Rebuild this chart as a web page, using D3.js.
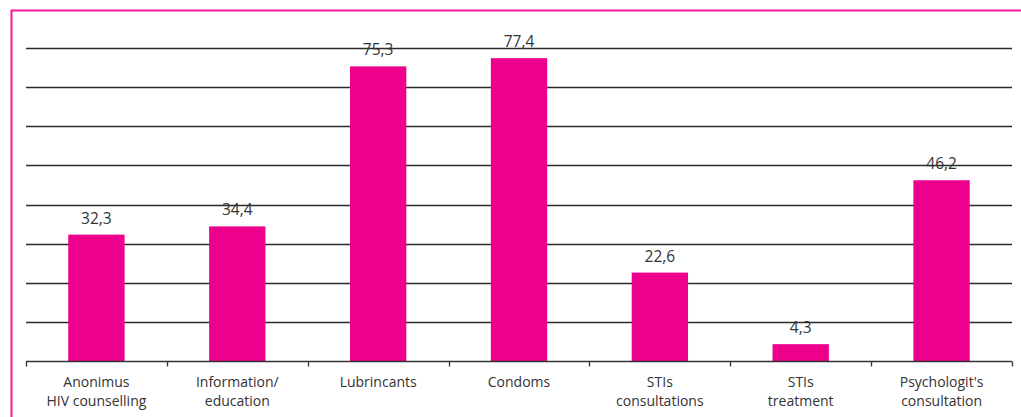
<!DOCTYPE html>
<html>
<head>
<meta charset="utf-8">
<script src="https://cdn.jsdelivr.net/npm/d3@7"></script>
<style>
  body { margin: 0; background: #fff; }
  svg { display: block; }
</style>
</head>
<body>
<div id="chart"></div>
<script>
var categories = [
    ["Anonimus", "HIV counselling"],
    ["Information/", "education"],
    ["Lubrincants"],
    ["Condoms"],
    ["STIs", "consultations"],
    ["STIs", "treatment"],
    ["Psychologit's", "consultation"]
];
var values = [32.3, 34.4, 75.3, 77.4, 22.6, 4.3, 46.2];
var yTicks = [0, 10, 20, 30, 40, 50, 60, 70, 80];

var width = 1021, height = 417;
var margin = {top: 48, right: 9, bottom: 56, left: 26};
var innerW = width - margin.left - margin.right,
    innerH = height - margin.top - margin.bottom;

var svg = d3.select("#chart").append("svg")
    .attr("width", width)
    .attr("height", height);

//pink frame round the chart
svg.append("rect")
    .attr("x", 11.5)
    .attr("y", 10.5)
    .attr("width", width)
    .attr("height", height)
    .attr("fill", "none")
    .attr("stroke", "#f7179b")
    .attr("stroke-width", 2);

var g = svg.append("g")
    .attr("transform", "translate(" + margin.left + "," + margin.top + ")");

var x = d3.scaleBand()
    .domain(d3.range(categories.length))
    .range([0, innerW])
    .paddingInner(0.6)
    .paddingOuter(0.3);

var xTickScale = d3.scaleLinear()
    .domain([0, categories.length])
    .range([0, innerW]);

var y = d3.scaleLinear()
    .domain([0, 80])
    .range([innerH, 0]);

//gridlines
g.selectAll(".grid")
    .data(yTicks.slice(1))
    .enter().append("line")
    .attr("class", "grid")
    .attr("x1", 0)
    .attr("x2", innerW)
    .attr("y1", function (d) { return Math.round(y(d)) + 0.5; })
    .attr("y2", function (d) { return Math.round(y(d)) + 0.5; })
    .attr("stroke", "#2b2b2b")
    .attr("stroke-width", 1.3);

//bars
g.selectAll(".bar")
    .data(values)
    .enter().append("rect")
    .attr("class", "bar")
    .attr("x", function (d, i) { return x(i); })
    .attr("width", x.bandwidth())
    .attr("y", function (d) { return y(d); })
    .attr("height", function (d) { return innerH - y(d); })
    .attr("fill", "#ec008c");

//value labels
g.selectAll(".val")
    .data(values)
    .enter().append("text")
    .attr("class", "val")
    .attr("x", function (d, i) { return x(i) + x.bandwidth() / 2; })
    .attr("y", function (d) { return y(d) - 11; })
    .attr("text-anchor", "middle")
    .attr("font-family", "'Open Sans', 'DejaVu Sans', sans-serif")
    .attr("font-size", "15.5px")
    .attr("fill", "#333")
    .text(function (d) { return d3.format(".1f")(d).replace(".", ","); });

//x axis line + ticks between categories
var axis = g.append("g")
    .attr("transform", "translate(0," + (Math.round(innerH) + 0.5) + ")");
axis.append("line")
    .attr("x1", 0).attr("x2", innerW)
    .attr("stroke", "#333")
    .attr("stroke-width", 1.3);
axis.selectAll(".tick")
    .data(d3.range(categories.length + 1))
    .enter().append("line")
    .attr("class", "tick")
    .attr("x1", function (d) { return Math.round(xTickScale(d)) + 0.5; })
    .attr("x2", function (d) { return Math.round(xTickScale(d)) + 0.5; })
    .attr("y1", 0).attr("y2", 5)
    .attr("stroke", "#333")
    .attr("stroke-width", 1.3);

//category labels
var labels = axis.selectAll(".cat")
    .data(categories)
    .enter().append("text")
    .attr("class", "cat")
    .attr("text-anchor", "middle")
    .attr("font-family", "'Open Sans', 'DejaVu Sans', sans-serif")
    .attr("font-size", "14px")
    .attr("fill", "#333")
    .attr("transform", function (d, i) {
        return "translate(" + (x(i) + x.bandwidth() / 2) + ",25)";
    });
labels.selectAll("tspan")
    .data(function (d) { return d; })
    .enter().append("tspan")
    .attr("x", 0)
    .attr("dy", function (d, i) { return i === 0 ? 0 : 19; })
    .text(function (d) { return d; });
</script>
</body>
</html>
